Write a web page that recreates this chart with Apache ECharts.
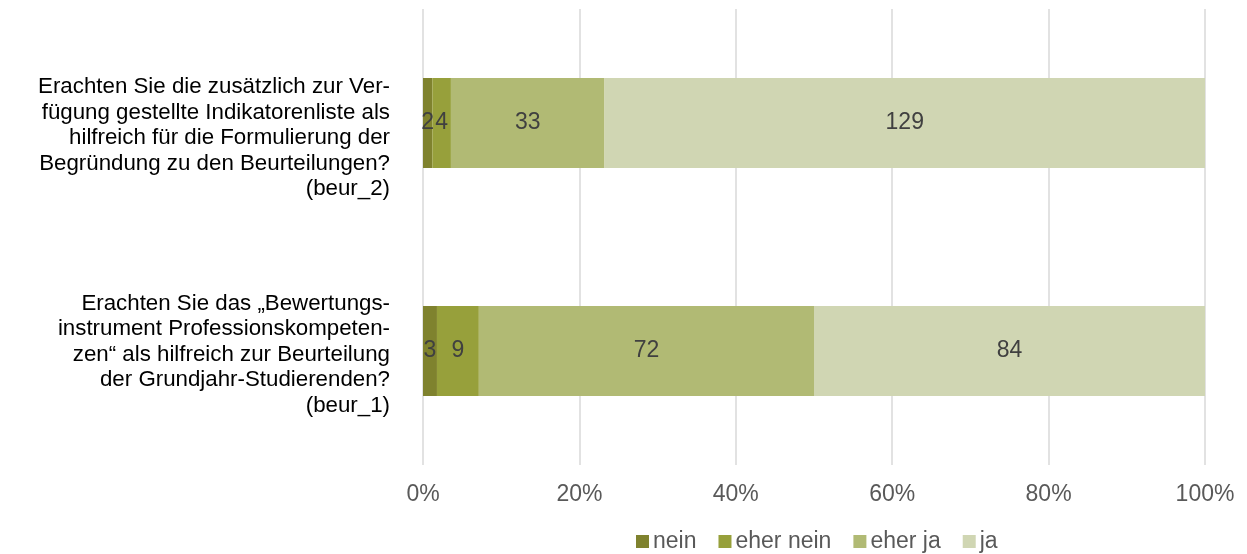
<!DOCTYPE html>
<html>
<head>
<meta charset="utf-8">
<script src="https://cdn.jsdelivr.net/npm/echarts@6/dist/echarts.min.js"></script>
<style>
  html, body { margin: 0; padding: 0; background: #fff; }
  #chart { width: 1247px; height: 554px; }
</style>
</head>
<body>
<div id="chart"></div>
<script>
// Questions (bottom to top on the category axis)
const questions = [
  'Erachten Sie das „Bewertungs-\ninstrument Professionskompeten-\nzen“ als hilfreich zur Beurteilung\nder Grundjahr-Studierenden?\n(beur_1)',
  'Erachten Sie die zusätzlich zur Ver-\nfügung gestellte Indikatorenliste als\nhilfreich für die Formulierung der\nBegründung zu den Beurteilungen?\n(beur_2)'
];
const answerNames = ['nein', 'eher nein', 'eher ja', 'ja'];
// Response counts per question, in the order of `questions`
const nein     = [3, 2];
const eherNein = [9, 4];
const eherJa   = [72, 33];
const ja       = [84, 129];
const tickLabels = ['0%', '20%', '40%', '60%', '80%', '100%'];

const colors = ['#7F822E', '#97A03B', '#B1BA74', '#D0D6B3'];
const counts = [nein, eherNein, eherJa, ja];
const totals = questions.map((_, i) => counts.reduce((s, arr) => s + arr[i], 0));

const font = 'Liberation Sans, Arial, sans-serif';

const series = answerNames.map((name, k) => ({
  name,
  type: 'bar',
  stack: 'total',
  barWidth: 90,
  itemStyle: { color: colors[k] },
  label: {
    show: true,
    position: 'inside',
    fontFamily: font,
    fontSize: 23,
    color: '#404040',
    formatter: p => String(counts[k][p.dataIndex])
  },
  emphasis: { disabled: true },
  data: counts[k].map((c, i) => c / totals[i] * 100)
}));

const chart = echarts.init(document.getElementById('chart'), null, { renderer: 'canvas' });
chart.setOption({
  animation: false,
  textStyle: { fontFamily: font },
  grid: { left: 423, right: 42, top: 9, bottom: 89, containLabel: false },
  legend: {
    data: answerNames,
    left: 631,
    top: 525,
    itemWidth: 13,
    itemHeight: 13,
    itemGap: 22,
    icon: 'rect',
    textStyle: { fontFamily: font, fontSize: 23, color: '#595959', padding: [0, 0, 0, -1] }
  },
  xAxis: {
    type: 'value',
    min: 0,
    max: 100,
    interval: 20,
    axisLine: { show: false },
    axisTick: { show: false },
    splitLine: { lineStyle: { color: '#D9D9D9', width: 1.5 } },
    axisLabel: {
      margin: 18,
      fontFamily: font,
      fontSize: 23,
      color: '#595959',
      formatter: v => tickLabels[Math.round(v / 20)]
    }
  },
  yAxis: {
    type: 'category',
    data: questions,
    axisLine: { show: false },
    axisTick: { show: false },
    axisLabel: {
      margin: 33,
      fontFamily: font,
      fontSize: 22.3,
      lineHeight: 25.5,
      color: '#000000',
      align: 'right',
      // a small empty lead line nudges each text block below its bar's centre
      formatter: (v, i) => (i === 1 ? '{gapTop| }\n' : '{gapBottom| }\n') + v,
      rich: {
        gapTop: { fontSize: 1, lineHeight: 30 },
        gapBottom: { fontSize: 1, lineHeight: 7 }
      }
    }
  },
  series
});
</script>
</body>
</html>
